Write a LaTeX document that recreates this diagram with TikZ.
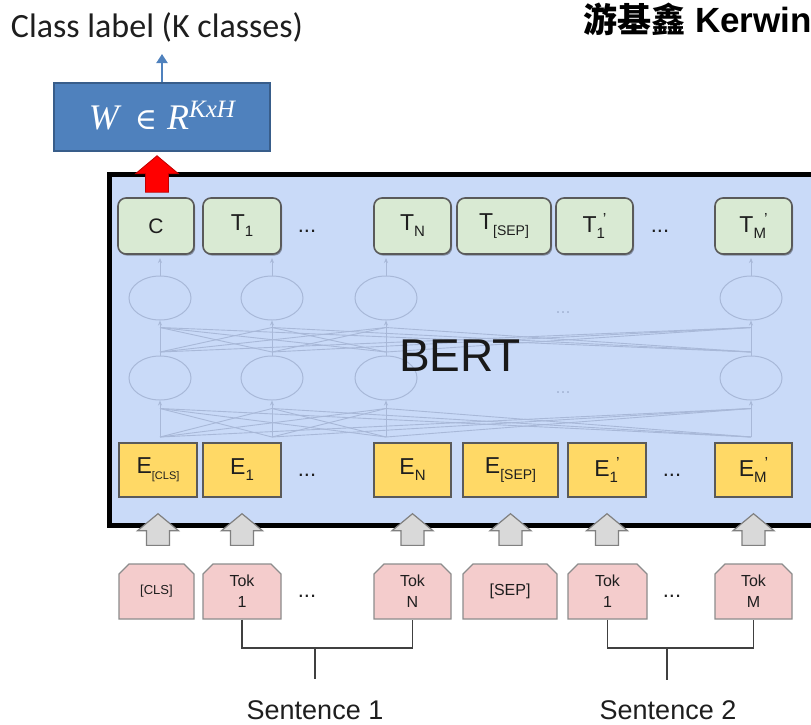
\documentclass[tikz,border=0pt]{standalone}
\usepackage{fontspec}
\setmainfont{Liberation Sans}
\newfontfamily\calfont{Carlito}
\newfontfamily\cjkfont{Noto Sans CJK TC}
\newfontfamily\serifit{Liberation Serif}
\newfontfamily\symfont{DejaVu Serif}
\usetikzlibrary{shapes.misc,shapes.geometric,shadows,calc,arrows.meta}

\definecolor{bertbg}{RGB}{201,218,248}
\definecolor{netc}{RGB}{168,184,216}
\definecolor{tgreen}{RGB}{217,234,211}
\definecolor{eyellow}{RGB}{255,217,102}
\definecolor{tpink}{RGB}{244,204,204}
\definecolor{wblue}{RGB}{79,129,189}
\definecolor{wblueb}{RGB}{56,93,138}
\definecolor{boxline}{RGB}{90,90,90}
\definecolor{pinkline}{RGB}{140,140,140}
\definecolor{txt}{RGB}{30,30,30}

\newcommand\fs[1]{\fontsize{#1}{#1}\selectfont}
% subscript and subscript-with-prime for the token labels
\newcommand\lsub[2][15]{\raisebox{-6pt}{\fs{#1}#2}}
\newcommand\lprm[1]{\raisebox{-6pt}{\fs{15}#1}\hspace{-2pt}\raisebox{8pt}{\fs{16}’}}
% vertical block arrow: style, bottom point, tip point, shaft half width, head half width, head length
\newcommand\blockarrow[6]{%
  \draw[#1] let \p1=(#2), \p2=(#3) in
    (\x1-#4,\y1) -- (\x1-#4,\y2-#6) -- (\x1-#5,\y2-#6) -- (\x1,\y2)
    -- (\x1+#5,\y2-#6) -- (\x1+#4,\y2-#6) -- (\x1+#4,\y1) -- cycle;}

\begin{document}
\begin{tikzpicture}[x=1pt,y=-1pt,
  tbox/.style={draw=boxline, line width=1.6pt, fill=tgreen, rounded corners=8pt,
    minimum height=56pt, inner sep=0pt, text=txt, font=\fs{23},
    drop shadow={shadow xshift=1.2pt, shadow yshift=-1.6pt, opacity=0.35, fill=black}},
  ebox/.style={draw=boxline, line width=1.4pt, fill=eyellow, minimum height=54pt,
    inner sep=0pt, text=txt, font=\fs{23}},
  tokbox/.style={chamfered rectangle, chamfered rectangle corners={north west,north east},
    chamfered rectangle xsep=5pt, chamfered rectangle ysep=5pt,
    draw=pinkline, line width=1.3pt, fill=tpink, minimum height=55pt, inner sep=0pt,
    text=txt, font=\fontsize{16}{21}\selectfont, align=center},
  dots/.style={text=txt, font=\fs{22}},
  neuron/.style={ellipse, draw=netc, line width=1pt, minimum width=62pt, minimum height=44pt, inner sep=0pt},
  net/.style={draw=netc, line width=0.9pt},
  netarrow/.style={net, -{Stealth[length=5pt,width=4pt]}},
  redblock/.style={fill=red, draw=red!75!black, line width=0.8pt},
  greyblock/.style={fill=black!15, draw=black!50, line width=1.2pt},
  sent/.style={text=txt, font=\fs{27}, anchor=base, inner sep=0pt}
]
\useasboundingbox (0,0) rectangle (811,724);

% header texts
\node[text=txt, font=\calfont\fs{34}] (cls) at (157,27) {Class label (K classes)};
\node[anchor=base east, font=\bfseries\fs{35}, inner sep=0pt] (author) at (812,32)
  {{\cjkfont\bfseries\fs{34}游基鑫} Kerwin};

% classifier weights
\node[draw=wblueb, line width=1.5pt, fill=wblue, minimum width=216pt, minimum height=68pt,
  text=white, font=\fs{36}] (W) at (162,117)
  {\raisebox{3pt}{{\serifit\itshape W}\, {\symfont\fs{30}∈} {\serifit\itshape R}\raisebox{12pt}{\serifit\itshape\fs{25}KxH}}};
\coordinate (clstop) at (162,54);
\draw[draw=wblue, line width=2pt, -{Triangle[length=9pt,width=11pt]}] (W.north) -- (clstop);

% BERT body
\fill[bertbg] (109.5,174.5) rectangle (830,525.5);

% faint transformer network
\foreach \k/\x in {1/160,2/272,3/386,4/751} {
  \node[neuron] (u\k) at (\x,298) {};
  \node[neuron] (l\k) at (\x,378) {};
  \coordinate (in\k) at (\x,437);
  \coordinate (mid\k) at (\x,352);
  \coordinate (out\k) at (\x,258);
}
\foreach \i in {1,...,4} {
  \foreach \j in {1,...,4} {
    \draw[net] (in\i) -- ($(l\j.south)+(0,8)$);
    \draw[net] (mid\i) -- ($(u\j.south)+(0,7)$);
  }
  \draw[netarrow] (in\i) -- (l\i.south);
  \draw[netarrow] (l\i.north) -- (u\i.south);
  \draw[netarrow] (u\i.north) -- (out\i);
}
\node[text=netc, font=\fs{18}] (ndots1) at (563,313) {...};
\node[text=netc, font=\fs{18}] (ndots2) at (563,393) {...};

\node[font=\fs{46}, text=black!90] (bert) at (460,356) {BERT};

% output vectors
\node[tbox, minimum width=76pt] (C)   at (156,226)   {\fs{21}C};
\node[tbox, minimum width=78pt] (T1)  at (242,226)   {T\lsub{1}};
\node[dots] (tdots1) at (307,231) {...};
\node[tbox, minimum width=77pt] (TN)  at (412.5,226) {T\lsub{N}};
\node[tbox, minimum width=94pt] (TS)  at (504,226)   {T\lsub[14]{[SEP]}};
\node[tbox, minimum width=77pt] (T1p) at (594.5,226) {T\lprm{1}};
\node[dots] (tdots2) at (660,231) {...};
\node[tbox, minimum width=77pt] (TMp) at (753.5,226) {T\lprm{M}};

% input embeddings
\node[ebox, minimum width=78pt] (EC)  at (158,470)   {E\lsub[11]{[CLS]}};
\node[ebox, minimum width=78pt] (E1)  at (242,470)   {E\lsub{1}};
\node[dots] (edots1) at (307,475) {...};
\node[ebox, minimum width=77pt] (EN)  at (412.5,470) {E\lsub{N}};
\node[ebox, minimum width=95pt] (ES)  at (510.5,470) {E\lsub[14]{[SEP]}};
\node[ebox, minimum width=78pt] (E1p) at (607,470)   {E\lprm{1}};
\node[dots] (edots2) at (672,475) {...};
\node[ebox, minimum width=77pt] (EMp) at (753.5,470) {E\lprm{M}};

% frame of the BERT body
\draw[line width=5pt, line join=miter] (830,174.5) -- (109.5,174.5) -- (109.5,525.5) -- (830,525.5);

% input tokens
\node[tokbox, minimum width=75pt, font=\fs{13}] (kC) at (156.5,591.5) {[CLS]};
\node[tokbox, minimum width=78pt] (k1)  at (242,591.5)   {Tok\\1};
\node[dots] (kdots1) at (307,596) {...};
\node[tokbox, minimum width=77pt] (kN)  at (412.5,591.5) {Tok\\N};
\node[tokbox, minimum width=94pt, font=\fs{16}] (kS) at (510,591.5) {[SEP]};
\node[tokbox, minimum width=79pt] (k1p) at (607.5,591.5) {Tok\\1};
\node[dots] (kdots2) at (672,596) {...};
\node[tokbox, minimum width=77pt] (kM)  at (753.5,591.5) {Tok\\M};

% token-to-embedding block arrows
\foreach \e/\t in {EC/kC,E1/k1,EN/kN,ES/kS,E1p/k1p,EMp/kM} {
  \coordinate (ab-\e) at ($(\e.south |- \t.north)+(0,-18)$);
  \coordinate (at-\e) at ($(\e.south)+(0,16)$);
  \blockarrow{greyblock}{ab-\e}{at-\e}{11.5pt}{20.5pt}{17pt}
}

% [CLS] output to the classifier
\coordinate (rb) at ($(C.north)+(1,-5)$);
\coordinate (rt) at ($(C.north |- W.south)+(1,4)$);
\blockarrow{redblock}{rb}{rt}{11.5pt}{21.5pt}{18pt}

% sentence brackets
\coordinate (s1) at (315,648);
\coordinate (s1e) at (315,679);
\coordinate (s2) at (667,648);
\coordinate (s2e) at (667,680);
\draw[line width=1.3pt, draw=black!75] (k1.south) |- (s1) -| (kN.south);
\draw[line width=1.3pt, draw=black!75] (s1) -- (s1e);
\draw[line width=1.3pt, draw=black!75] (k1p.south) |- (s2) -| (kM.south);
\draw[line width=1.3pt, draw=black!75] (s2) -- (s2e);
\node[sent] (sent1) at (315,719) {Sentence 1};
\node[sent] (sent2) at (668,719) {Sentence 2};
\end{tikzpicture}
\end{document}
